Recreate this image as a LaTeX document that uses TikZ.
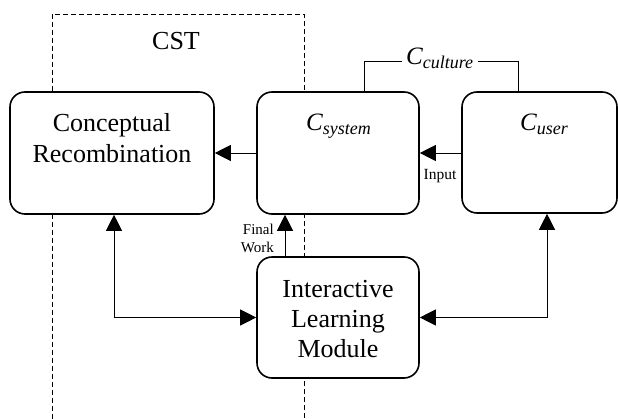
\documentclass[tikz,border=0pt]{standalone}
\usepackage{fontspec}
\setmainfont{Liberation Serif}
\usetikzlibrary{arrows.meta}

\newcommand{\bigfont}{\fontsize{26}{31}\selectfont}
\newcommand{\midfont}{\fontsize{26}{30}\selectfont}
\newcommand{\smallfont}{\fontsize{15}{18}\selectfont}
\newcommand{\subC}[1]{{\fontsize{25}{25}\selectfont\itshape C}\raisebox{-4pt}{\fontsize{18}{18}\selectfont\itshape #1}}

\tikzset{
  box/.style={draw, fill=white, line width=1.6pt, rounded corners=15pt, inner sep=0pt},
  conn/.style={line width=0.8pt},
  arr/.style={conn, -{Triangle[length=16pt,width=16pt]}},
  arrboth/.style={conn, {Triangle[length=16pt,width=16pt]}-{Triangle[length=16pt,width=16pt]}},
  lbl/.style={inner sep=0pt, anchor=base},
}

\begin{document}
\begin{tikzpicture}[x=1pt,y=-1pt]
\useasboundingbox (0,0) rectangle (618,419);

% CST region
\draw[line width=0.7pt, dash pattern=on 5pt off 3pt] (52,419) -- (52,14) -- (304,14) -- (304,419);
\node[lbl] (cst) at (176,50) {\bigfont CST};

% boxes
\node[box, minimum width=204pt, minimum height=122pt] (cr) at (112,153) {};
\node[box, minimum width=162pt, minimum height=122pt] (cs) at (338,153) {};
\node[box, minimum width=155pt, minimum height=121pt] (cu) at (539.5,152.5) {};
\node[box, minimum width=162pt, minimum height=121pt] (ilm) at (338,317.5) {};

% box texts (base anchor = baseline of the last line)
\node[lbl, align=center, font=\bigfont] (crt) at (112,163) {Conceptual\\Recombination};
\node[lbl, anchor=base west] (cst2) at (306,131) {\subC{system}};
\node[lbl, anchor=base west] (cut) at (520,131) {\subC{user}};
\node[lbl, align=center, font=\midfont] (ilmt) at (338,357) {Interactive\\Learning\\Module};

% culture link
\node[lbl, anchor=base west] (cult) at (406,65) {\subC{culture}};
\coordinate (cultL) at (402,61);
\coordinate (cultR) at (478,61);
\coordinate (xa) at (364,0);
\coordinate (xb) at (518,0);
\draw[conn] (cs.north -| xa) |- (cultL);
\draw[conn] (cultR) -| (cu.north -| xb);

% arrows
\draw[arr] (cs.west) -- (cr.east);
\draw[arr] (cu.west |- cs.west) -- (cs.east);
\node[lbl, font=\fontsize{15.5}{18}\selectfont] (inp) at (440,180) {Input};

\coordinate (xf) at (285,0);
\draw[arr] (ilm.north -| xf) -- (cs.south -| xf);
\node[lbl, anchor=base east, align=right, font=\smallfont] (fw) at (274,253) {Final\\Work};

\coordinate (xl) at (114,0);
\coordinate (xr) at (547,0);
\draw[arrboth] (cr.south -| xl) |- (ilm.west);
\draw[arrboth] (ilm.east) -| (cu.south -| xr);
\end{tikzpicture}
\end{document}
